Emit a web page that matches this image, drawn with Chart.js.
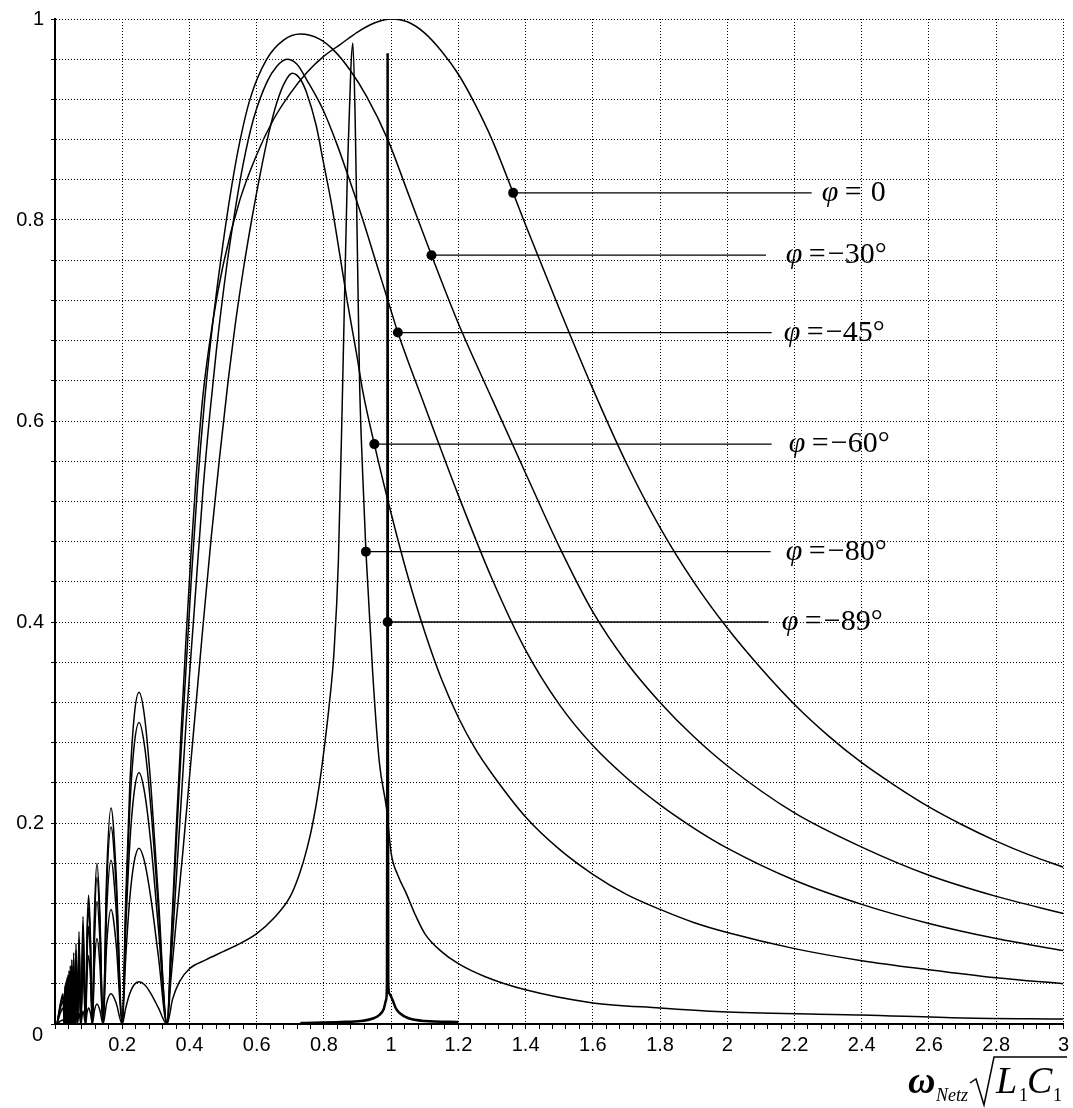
<!DOCTYPE html>
<html>
<head>
<meta charset="utf-8">
<script src="https://cdn.jsdelivr.net/npm/chart.js@4.4.1/dist/chart.umd.min.js"></script>
<style>
  html, body { margin: 0; padding: 0; background: #fff; }
  canvas { display: block; }
</style>
</head>
<body>
<canvas id="resChart" width="1073" height="1108"></canvas>
<script>
// low frequency part, zeros at 1/3, 1/5, 1/7 ... shared by all curves
const humpX = [0.006, 0.017, 0.024,
  0.02857, 0.02941, 0.0303, 0.03125, 0.03226, 0.03333, 0.03448, 0.03571, 0.03704, 0.03846, 0.04,
  0.04167, 0.04348, 0.04545, 0.04762, 0.05, 0.05263, 0.05556, 0.05882, 0.0625, 0.06667, 0.07143, 0.07692, 0.08333, 0.09091,
  0.09524, 0.1, 0.10526, 0.11111, 0.11765, 0.125, 0.13333, 0.14286, 0.15385, 0.16667, 0.18182, 0.2,
  0.21053, 0.22222, 0.23529, 0.25, 0.26667, 0.28571, 0.30769, 0.33333]

const phi0Hump = [0, 0.022, 0.03,
  0, 0.038, 0, 0.04, 0, 0.043, 0, 0.046, 0, 0.049, 0,
  0.053, 0, 0.058, 0, 0.064, 0, 0.071, 0, 0.08, 0, 0.092, 0, 0.107, 0,
  0.09, 0.128, 0.09, 0, 0.112, 0.16, 0.112, 0, 0.15, 0.215, 0.15, 0,
  0.125, 0.235, 0.305, 0.33, 0.305, 0.235, 0.125, 0]
const phi30Hump = [0, 0.02, 0.027,
  0, 0.035, 0, 0.036, 0, 0.039, 0, 0.042, 0, 0.045, 0,
  0.048, 0, 0.053, 0, 0.058, 0, 0.065, 0, 0.073, 0, 0.084, 0, 0.097, 0,
  0.081, 0.116, 0.081, 0, 0.102, 0.146, 0.102, 0, 0.137, 0.196, 0.137, 0,
  0.114, 0.213, 0.276, 0.30, 0.276, 0.213, 0.114, 0]
const phi45Hump = [0, 0.017, 0.023,
  0, 0.029, 0, 0.03, 0, 0.033, 0, 0.035, 0, 0.037, 0,
  0.04, 0, 0.044, 0, 0.049, 0, 0.054, 0, 0.061, 0, 0.07, 0, 0.081, 0,
  0.068, 0.097, 0.068, 0, 0.085, 0.122, 0.085, 0, 0.114, 0.163, 0.114, 0,
  0.095, 0.178, 0.23, 0.25, 0.23, 0.178, 0.095, 0]
const phi60Hump = [0, 0.012, 0.016,
  0, 0.02, 0, 0.021, 0, 0.023, 0, 0.024, 0, 0.026, 0,
  0.028, 0, 0.031, 0, 0.034, 0, 0.038, 0, 0.042, 0, 0.049, 0, 0.057, 0,
  0.048, 0.068, 0.048, 0, 0.06, 0.085, 0.06, 0, 0.08, 0.114, 0.08, 0,
  0.067, 0.124, 0.161, 0.175, 0.161, 0.124, 0.067, 0]
const phi80Hump = [0, 0.003, 0.004,
  0, 0.005, 0, 0.005, 0, 0.005, 0, 0.006, 0, 0.006, 0,
  0.006, 0, 0.007, 0, 0.008, 0, 0.009, 0, 0.01, 0, 0.011, 0, 0.013, 0,
  0.011, 0.016, 0.011, 0, 0.014, 0.02, 0.014, 0, 0.021, 0.03, 0.021, 0,
  0.016, 0.03, 0.039, 0.042, 0.039, 0.03, 0.016, 0]

// main lobes, x > 1/3
const phi0X = [0.345, 0.36, 0.375, 0.39, 0.405, 0.42, 0.44, 0.47, 0.5, 0.55, 0.6, 0.65, 0.7, 0.75, 0.8, 0.85, 0.9, 0.95,
  1.0, 1.05, 1.1, 1.15, 1.2, 1.25, 1.3, 1.363, 1.4, 1.5, 1.6, 1.7, 1.8, 1.9, 2.0, 2.1, 2.2, 2.3, 2.4, 2.5, 2.6, 2.7, 2.8, 2.9, 3.0]
const phi0Y = [0.08, 0.19, 0.29, 0.385, 0.47, 0.545, 0.625, 0.7, 0.755, 0.82, 0.865, 0.9, 0.926, 0.947, 0.963, 0.975, 0.987, 0.996,
  1.0, 0.997, 0.986, 0.968, 0.945, 0.915, 0.88, 0.827, 0.795, 0.712, 0.632, 0.558, 0.494, 0.44, 0.394, 0.354, 0.318, 0.287, 0.26, 0.237, 0.216, 0.198, 0.182, 0.168, 0.156]

const phi30X = [0.345, 0.36, 0.375, 0.39, 0.405, 0.425, 0.445, 0.465, 0.485, 0.5, 0.52, 0.545, 0.58, 0.63, 0.68, 0.73, 0.787, 0.826, 0.876, 0.927,
  0.99, 1.05, 1.12, 1.2, 1.3, 1.4, 1.5, 1.6, 1.7, 1.8, 1.9, 2.0, 2.2, 2.4, 2.6, 2.8, 3.0]
const phi30Y = [0.075, 0.175, 0.27, 0.355, 0.44, 0.54, 0.62, 0.685, 0.74, 0.777, 0.822, 0.87, 0.92, 0.96, 0.979, 0.985, 0.98, 0.97, 0.95, 0.923,
  0.88, 0.827, 0.765, 0.697, 0.622, 0.548, 0.475, 0.41, 0.36, 0.32, 0.286, 0.257, 0.21, 0.176, 0.148, 0.127, 0.11]

const phi45X = [0.345, 0.36, 0.375, 0.39, 0.415, 0.44, 0.46, 0.48, 0.51, 0.535, 0.56, 0.59, 0.63, 0.66, 0.69, 0.72, 0.748, 0.797, 0.837, 0.876,
  0.916, 0.955, 0.995, 1.02, 1.1, 1.2, 1.3, 1.4, 1.5, 1.6, 1.7, 1.8, 1.9, 2.0, 2.2, 2.4, 2.6, 2.8, 3.0]
const phi45Y = [0.06, 0.14, 0.22, 0.30, 0.415, 0.53, 0.605, 0.67, 0.752, 0.808, 0.856, 0.9, 0.937, 0.953, 0.96, 0.955, 0.94, 0.91, 0.877, 0.84,
  0.80, 0.758, 0.715, 0.688, 0.615, 0.526, 0.443, 0.372, 0.318, 0.277, 0.245, 0.218, 0.195, 0.175, 0.143, 0.119, 0.1, 0.085, 0.073]

const phi60X = [0.345, 0.36, 0.38, 0.4, 0.42, 0.44, 0.465, 0.49, 0.515, 0.535, 0.56, 0.585, 0.61, 0.635, 0.66, 0.685, 0.706, 0.73, 0.748, 0.777,
  0.797, 0.822, 0.846, 0.87, 0.896, 0.916, 0.95, 1.0, 1.05, 1.1, 1.15, 1.2, 1.25, 1.3, 1.4, 1.5, 1.6, 1.7, 1.8, 1.9,
  2.0, 2.2, 2.4, 2.6, 2.8, 3.0]
const phi60Y = [0.045, 0.10, 0.17, 0.245, 0.32, 0.395, 0.485, 0.565, 0.64, 0.693, 0.75, 0.8, 0.845, 0.885, 0.917, 0.938, 0.946, 0.94, 0.927, 0.894,
  0.86, 0.817, 0.768, 0.718, 0.669, 0.629, 0.577, 0.508, 0.445, 0.39, 0.343, 0.305, 0.274, 0.249, 0.206, 0.174, 0.149, 0.129, 0.114, 0.101,
  0.091, 0.075, 0.063, 0.054, 0.046, 0.04]

const phi80X = [0.35, 0.37, 0.4, 0.45, 0.5, 0.55, 0.6, 0.65, 0.7, 0.728, 0.75, 0.767, 0.785, 0.8, 0.815, 0.83, 0.843, 0.856, 0.87, 0.88,
  0.886, 0.893, 0.9, 0.906, 0.915, 0.925, 0.945, 0.965, 0.986, 1.0, 1.02, 1.045, 1.07, 1.1, 1.15, 1.2, 1.28, 1.4, 1.6, 1.8,
  2.0, 2.4, 2.7, 3.0]
const phi80Y = [0.025, 0.042, 0.055, 0.064, 0.072, 0.08, 0.09, 0.105, 0.127, 0.15, 0.175, 0.2, 0.235, 0.272, 0.315, 0.37, 0.46, 0.64, 0.85, 0.95,
  0.976, 0.9, 0.76, 0.64, 0.55, 0.47, 0.35, 0.26, 0.215, 0.17, 0.148, 0.13, 0.11, 0.09, 0.072, 0.06, 0.047, 0.034, 0.021, 0.016,
  0.012, 0.009, 0.006, 0.005]

const phi89X = [0.73, 0.85, 0.91, 0.95, 0.965, 0.978, 0.985, 0.9875, 0.9888, 0.9895, 0.9902, 0.9915, 0.995, 1.004, 1.015, 1.025, 1.05, 1.1, 1.2]
const phi89Y = [0.001, 0.002, 0.003, 0.006, 0.009, 0.015, 0.024, 0.04, 0.3, 0.966, 0.3, 0.04, 0.03, 0.024, 0.015, 0.011, 0.006, 0.003, 0.002]

// curve labels
const labelText = ['0', '\u221230\u00b0', '\u221245\u00b0', '\u221260\u00b0', '\u221280\u00b0', '\u221289\u00b0']
const labelDotX = [1.363, 1.12, 1.02, 0.95, 0.925, 0.9895]
const labelY = [0.827, 0.765, 0.688, 0.577, 0.47, 0.40]
const labelLineEnd = [2.251, 2.115, 2.132, 2.132, 2.129, 2.123]
const labelTextX = [2.281, 2.174, 2.168, 2.183, 2.174, 2.162]

const toPoints = (xs, ys) => xs.map((x, i) => ({ x: x, y: ys[i] }))
const isMajor = v => Math.abs(v / 0.2 - Math.round(v / 0.2)) < 1e-6

function curve(xs, ys, width) {
  return {
    data: toPoints(xs, ys),
    showLine: true,
    borderColor: '#000',
    borderWidth: width || 1.5,
    pointRadius: 0,
    cubicInterpolationMode: 'monotone'
  }
}

const datasets = []
labelText.forEach((t, i) => {
  datasets.push({
    data: [{ x: labelDotX[i], y: labelY[i] }, { x: labelLineEnd[i], y: labelY[i] }],
    showLine: true,
    borderColor: '#000',
    borderWidth: 1.3,
    pointRadius: [5, 0],
    pointBackgroundColor: '#000',
    pointBorderWidth: 0
  })
})
datasets.push(curve(phi89X, phi89Y, 2.5))
datasets.push(curve(humpX.concat(phi80X), phi80Hump.concat(phi80Y)))
datasets.push(curve(humpX.concat(phi60X), phi60Hump.concat(phi60Y)))
datasets.push(curve(humpX.concat(phi45X), phi45Hump.concat(phi45Y)))
datasets.push(curve(humpX.concat(phi30X), phi30Hump.concat(phi30Y)))
datasets.push(curve(humpX.concat(phi0X), phi0Hump.concat(phi0Y)))

//text that is not part of the axes
const textPlugin = {
  id: 'textPlugin',
  afterDraw(chart) {
    const { ctx } = chart
    const xs = chart.scales.x
    const ys = chart.scales.y
    ctx.save()
    ctx.fillStyle = '#000'
    ctx.textAlign = 'left'
    ctx.textBaseline = 'alphabetic'
    labelText.forEach((t, i) => {
      const px = xs.getPixelForValue(labelTextX[i])
      const py = ys.getPixelForValue(labelY[i]) + 8
      ctx.font = 'italic 30px "Liberation Serif"'
      ctx.fillText('\u03c6', px, py)
      ctx.font = '30px "Liberation Serif"'
      ctx.fillText('=', px + 23, py)
      ctx.fillText(t, px + (t === '0' ? 49 : 42), py)
    })

    // origin label
    ctx.font = '20px "Liberation Sans"'
    ctx.textAlign = 'right'
    ctx.textBaseline = 'middle'
    ctx.fillText('0', 43, 1035)

    // axis title: omega_Netz sqrt(L1 C1)
    ctx.textAlign = 'left'
    ctx.textBaseline = 'alphabetic'
    ctx.font = 'bold italic 38px "Liberation Serif"'
    ctx.fillText('\u03c9', 908, 1093)
    ctx.font = 'italic 18px "Liberation Serif"'
    ctx.fillText('Netz', 936, 1101)
    ctx.lineWidth = 1.5
    ctx.strokeStyle = '#000'
    ctx.beginPath()
    ctx.moveTo(970, 1083)
    ctx.lineTo(976, 1079)
    ctx.lineTo(984, 1105)
    ctx.lineTo(994, 1057)
    ctx.lineTo(1067, 1057)
    ctx.stroke()
    ctx.font = 'italic 38px "Liberation Serif"'
    ctx.fillText('L', 996, 1093)
    ctx.fillText('C', 1027, 1093)
    ctx.font = '18px "Liberation Serif"'
    ctx.fillText('1', 1019, 1101)
    ctx.fillText('1', 1053, 1101)
    ctx.restore()
  }
}

const tickFont = { family: '"Liberation Sans", Arial, sans-serif', size: 20 }

new Chart(document.getElementById('resChart'), {
  type: 'scatter',
  data: { datasets: datasets },
  options: {
    responsive: false,
    animation: false,
    events: [],
    layout: { padding: { top: 16, right: 8, left: 0, bottom: 0 } },
    plugins: { legend: { display: false }, tooltip: { enabled: false } },
    scales: {
      x: {
        type: 'linear',
        min: 0,
        max: 3,
        afterFit: s => { s.height = 84 },
        ticks: {
          stepSize: 0.04,
          autoSkip: false,
          maxRotation: 0,
          padding: 4,
          color: '#000',
          font: tickFont,
          callback: v => (isMajor(v) && v > 0.01) ? String(+v.toFixed(1)) : ''
        },
        grid: {
          color: c => (c.tick && isMajor(c.tick.value) && c.tick.value > 0.01) ? '#000' : 'rgba(0,0,0,0)',
          lineWidth: 1,
          tickColor: '#000',
          tickLength: 5,
          tickBorderDash: []
        },
        border: { display: true, color: '#000', width: 2, dash: [1, 2] }
      },
      y: {
        min: 0,
        max: 1,
        afterFit: s => { s.width = 55 },
        ticks: {
          stepSize: 0.04,
          autoSkip: false,
          padding: 7,
          color: '#000',
          font: tickFont,
          callback: v => (isMajor(v) && v > 0.01) ? String(+v.toFixed(1)) : ''
        },
        grid: {
          color: c => (c.tick && c.tick.value > 0.01) ? '#000' : 'rgba(0,0,0,0)',
          lineWidth: 1,
          tickColor: '#000',
          tickLength: 4,
          tickBorderDash: []
        },
        border: { display: true, color: '#000', width: 2, dash: [1, 2] }
      }
    }
  },
  plugins: [textPlugin]
})
</script>
</body>
</html>
